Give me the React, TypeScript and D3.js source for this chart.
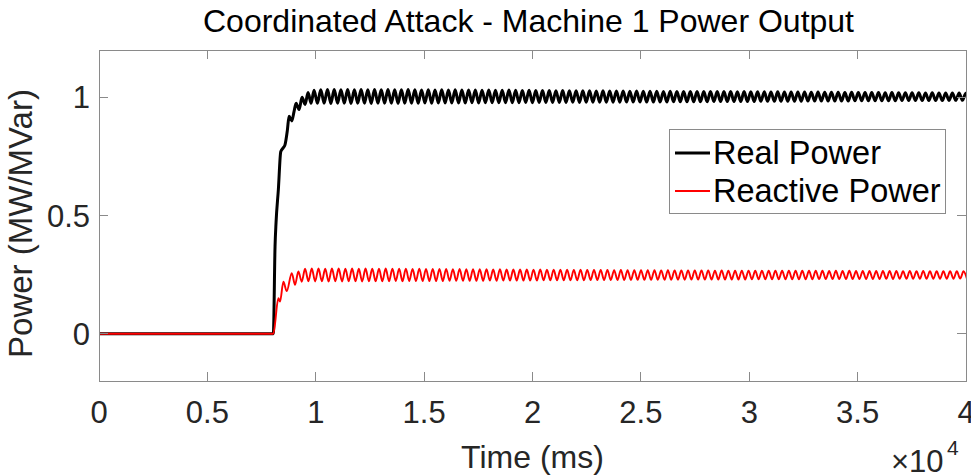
import React from "react";
import * as d3 from "d3";

// ---------- data ----------
const xTickValues = [0, 5000, 10000, 15000, 20000, 25000, 30000, 35000, 40000];
const xTickLabels = ["0", "0.5", "1", "1.5", "2", "2.5", "3", "3.5", "4"];
const yTickValues = [0, 0.5, 1];
const yTickLabels = ["0", "0.5", "1"];

const realTransientTime = [0, 8044, 8122, 8168, 8275, 8385, 8491, 8584, 8690, 8769, 8893, 9000, 9092, 9230, 9369, 9507, 9646, 9784];
const realTransientValue = [0, 0, 0.37, 0.47, 0.61, 0.77, 0.785, 0.8, 0.86, 0.92, 0.9, 0.94, 0.975, 0.948, 1.0, 0.97, 1.02, 0.975];

const reactiveTransientTime = [0, 8044, 8275, 8353, 8506, 8662, 8893, 9045, 9198, 9355];
const reactiveTransientValue = [0, 0, 0.15, 0.136, 0.22, 0.18, 0.256, 0.207, 0.263, 0.22];

// steady oscillation: successive extrema, sampled every half period
const oscHalfPeriodMs = 155;
const realOscStartMs = 9922;
const realOscValues = [
  1.030, 0.975, 1.032, 0.975, 1.033, 0.974, 1.033, 0.975, 1.032, 0.975,
  1.033, 0.974, 1.032, 0.975, 1.033, 0.975, 1.032, 0.974, 1.033, 0.975,
  1.032, 0.975, 1.033, 0.975, 1.032, 0.974, 1.032, 0.975, 1.033, 0.975,
  1.032, 0.975, 1.031, 0.976, 1.032, 0.975, 1.031, 0.976, 1.032, 0.976,
  1.031, 0.976, 1.032, 0.976, 1.031, 0.976, 1.031, 0.977, 1.031, 0.976,
  1.030, 0.977, 1.031, 0.977, 1.030, 0.977, 1.030, 0.977, 1.031, 0.977,
  1.030, 0.977, 1.029, 0.978, 1.030, 0.977, 1.029, 0.978, 1.029, 0.978,
  1.029, 0.978, 1.028, 0.978, 1.029, 0.978, 1.028, 0.979, 1.028, 0.978,
  1.028, 0.979, 1.028, 0.979, 1.027, 0.979, 1.028, 0.979, 1.027, 0.979,
  1.027, 0.979, 1.027, 0.980, 1.026, 0.980, 1.027, 0.980, 1.026, 0.980,
  1.026, 0.980, 1.026, 0.980, 1.025, 0.980, 1.026, 0.981, 1.025, 0.981,
  1.025, 0.981, 1.025, 0.981, 1.025, 0.981, 1.024, 0.981, 1.025, 0.982,
  1.024, 0.982, 1.024, 0.982, 1.024, 0.982, 1.023, 0.982, 1.024, 0.982,
  1.023, 0.982, 1.023, 0.983, 1.023, 0.983, 1.022, 0.983, 1.023, 0.983,
  1.022, 0.983, 1.022, 0.983, 1.022, 0.983, 1.022, 0.984, 1.021, 0.984,
  1.022, 0.984, 1.021, 0.984, 1.021, 0.984, 1.021, 0.984, 1.020, 0.984,
  1.021, 0.985, 1.020, 0.985, 1.020, 0.985, 1.020, 0.985, 1.020, 0.985,
  1.019, 0.985, 1.020, 0.985, 1.019, 0.986, 1.019, 0.986, 1.019, 0.986,
  1.019, 0.986, 1.018, 0.986, 1.019, 0.986, 1.018, 0.986, 1.018, 0.987,
  1.018, 0.987, 1.018, 0.987, 1.017, 0.987,
];
const reactiveOscStartMs = 9507;
const reactiveOscValues = [
  0.275, 0.222, 0.276, 0.221, 0.276, 0.222, 0.275, 0.221, 0.276, 0.222,
  0.276, 0.221, 0.275, 0.222, 0.276, 0.222, 0.275, 0.221, 0.276, 0.222,
  0.275, 0.222, 0.275, 0.222, 0.276, 0.222, 0.275, 0.223, 0.275, 0.222,
  0.275, 0.223, 0.274, 0.223, 0.275, 0.223, 0.274, 0.223, 0.274, 0.223,
  0.274, 0.223, 0.274, 0.224, 0.273, 0.224, 0.274, 0.224, 0.273, 0.224,
  0.273, 0.224, 0.273, 0.224, 0.273, 0.225, 0.272, 0.224, 0.273, 0.225,
  0.272, 0.225, 0.272, 0.225, 0.272, 0.225, 0.272, 0.225, 0.271, 0.225,
  0.272, 0.226, 0.271, 0.226, 0.271, 0.226, 0.271, 0.226, 0.271, 0.226,
  0.270, 0.226, 0.271, 0.226, 0.270, 0.227, 0.270, 0.227, 0.270, 0.227,
  0.270, 0.227, 0.269, 0.227, 0.270, 0.227, 0.269, 0.227, 0.269, 0.228,
  0.269, 0.228, 0.269, 0.228, 0.269, 0.228, 0.268, 0.228, 0.269, 0.228,
  0.268, 0.228, 0.268, 0.228, 0.268, 0.229, 0.268, 0.229, 0.268, 0.229,
  0.268, 0.229, 0.267, 0.229, 0.268, 0.229, 0.267, 0.229, 0.267, 0.229,
  0.267, 0.229, 0.267, 0.230, 0.267, 0.230, 0.267, 0.230, 0.266, 0.230,
  0.267, 0.230, 0.266, 0.230, 0.266, 0.230, 0.266, 0.230, 0.266, 0.230,
  0.266, 0.230, 0.266, 0.231, 0.266, 0.231, 0.265, 0.231, 0.266, 0.231,
  0.265, 0.231, 0.266, 0.231, 0.265, 0.231, 0.265, 0.231, 0.265, 0.231,
  0.265, 0.231, 0.265, 0.232, 0.265, 0.231, 0.265, 0.232, 0.264, 0.232,
  0.265, 0.232, 0.264, 0.232, 0.265, 0.232, 0.264, 0.232, 0.264, 0.232,
  0.264, 0.232, 0.264, 0.232, 0.264, 0.233, 0.264, 0.233,
];

// ---------- layout ----------
const W = 971;
const H = 475;
const plotLeft = 99;
const plotRight = 966;
const plotTop = 50;
const plotBottom = 381;
const tickLen = 9;
const FONT = "'Liberation Sans', Arial, Helvetica, sans-serif";
const axisColor = "#8a8a8a";
const textColor = "#262626";

type Pt = { t: number; v: number };

function buildSeries(tt: number[], tv: number[], start: number, osc: number[]): Pt[] {
  const pts: Pt[] = tt.map((t, i) => ({ t, v: tv[i] }));
  osc.forEach((v, i) => pts.push({ t: start + i * oscHalfPeriodMs, v }));
  return pts;
}

export default function App() {
  const x = d3.scaleLinear().domain([0, 40000]).range([plotLeft, plotRight]);
  const y = d3.scaleLinear().domain([-0.2, 1.2]).range([plotBottom, plotTop]);

  const line = d3
    .line<Pt>()
    .x((d) => x(d.t))
    .y((d) => y(d.v))
    .curve(d3.curveMonotoneX);

  const real = buildSeries(realTransientTime, realTransientValue, realOscStartMs, realOscValues);
  const reactive = buildSeries(reactiveTransientTime, reactiveTransientValue, reactiveOscStartMs, reactiveOscValues);

  const cx = (plotLeft + plotRight) / 2;

  return (
    <svg
      width={W}
      height={H}
      style={{ position: "absolute", left: 0, top: 0, background: "#fff" }}
      fontFamily={FONT}
    >
      <rect x={0} y={0} width={W} height={H} fill="#fff" />
      <defs>
        <clipPath id="plotclip">
          <rect x={plotLeft} y={plotTop} width={plotRight - plotLeft} height={plotBottom - plotTop} />
        </clipPath>
      </defs>

      {/* title */}
      <text x={cx - 4} y={32} textAnchor="middle" fontSize={32} fill="#000">
        Coordinated Attack - Machine 1 Power Output
      </text>

      {/* lines */}
      <g clipPath="url(#plotclip)">
        <path d={line(real) || ""} fill="none" stroke="#000" strokeWidth={3} strokeLinejoin="round" />
        <path d={line(reactive) || ""} fill="none" stroke="#ff0000" strokeWidth={1.9} strokeLinejoin="round" />
      </g>

      {/* axes box */}
      <rect
        x={plotLeft}
        y={plotTop}
        width={plotRight - plotLeft}
        height={plotBottom - plotTop}
        fill="none"
        stroke={axisColor}
        strokeWidth={1}
        shapeRendering="crispEdges"
      />

      {/* x ticks */}
      {xTickValues.map((v, i) => (
        <g key={"xt" + i}>
          <line x1={x(v)} x2={x(v)} y1={plotBottom} y2={plotBottom - tickLen} stroke={axisColor} shapeRendering="crispEdges" />
          <line x1={x(v)} x2={x(v)} y1={plotTop} y2={plotTop + tickLen} stroke={axisColor} shapeRendering="crispEdges" />
          <text x={x(v)} y={423} textAnchor="middle" fontSize={31} fill={textColor}>
            {xTickLabels[i]}
          </text>
        </g>
      ))}

      {/* y ticks */}
      {yTickValues.map((v, i) => (
        <g key={"yt" + i}>
          <line x1={plotLeft} x2={plotLeft + tickLen} y1={y(v)} y2={y(v)} stroke={axisColor} shapeRendering="crispEdges" />
          <line x1={plotRight} x2={plotRight - tickLen} y1={y(v)} y2={y(v)} stroke={axisColor} shapeRendering="crispEdges" />
          <text x={90} y={y(v) + 11} textAnchor="end" fontSize={31} fill={textColor}>
            {yTickLabels[i]}
          </text>
        </g>
      ))}

      {/* axis labels */}
      <text x={cx} y={468} textAnchor="middle" fontSize={32} fill={textColor}>
        Time (ms)
      </text>
      <text
        transform={`translate(32, ${(plotTop + plotBottom) / 2 + 8}) rotate(-90)`}
        textAnchor="middle"
        fontSize={33}
        fill={textColor}
      >
        Power (MW/MVar)
      </text>

      {/* exponent */}
      <text x={891} y={472} fontSize={31} fill={textColor}>
        ×10
      </text>
      <text x={947} y={455} fontSize={21} fill={textColor}>
        4
      </text>

      {/* legend */}
      <rect x={669} y={129} width={276} height={84} fill="#fff" stroke={axisColor} strokeWidth={1} shapeRendering="crispEdges" />
      <line x1={675} x2={710} y1={153} y2={153} stroke="#000" strokeWidth={3} />
      <line x1={675} x2={710} y1={191} y2={191} stroke="#ff0000" strokeWidth={1.9} />
      <text x={713} y={163.5} fontSize={32.5} fill="#000">
        Real Power
      </text>
      <text x={713} y={202} fontSize={32.5} fill="#000">
        Reactive Power
      </text>
    </svg>
  );
}
